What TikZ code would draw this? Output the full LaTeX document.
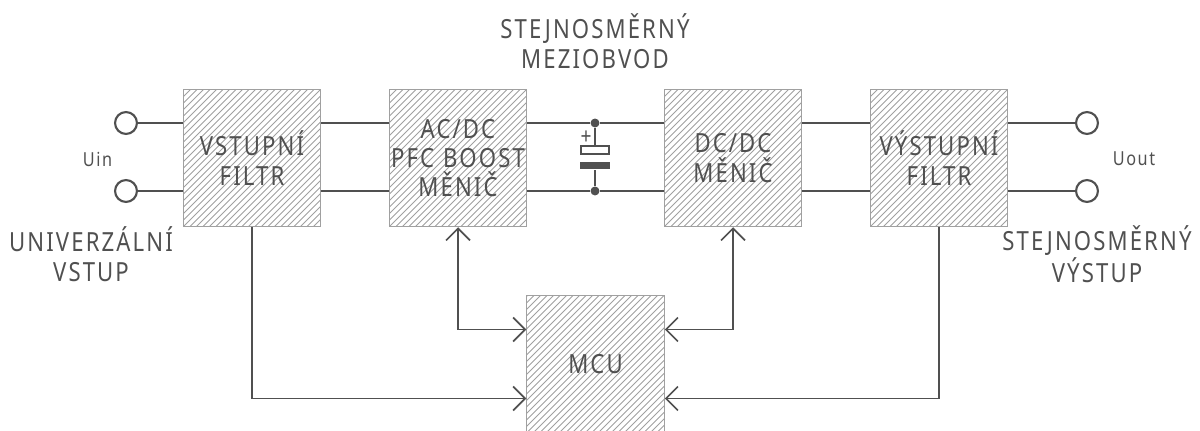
\documentclass[tikz,border=0pt]{standalone}
\usepackage{fontspec}
\setmainfont[LetterSpace=8,FakeStretch=0.84]{Noto Sans}
\usetikzlibrary{arrows.meta,calc}
\definecolor{ink}{HTML}{505050}
\definecolor{hatch}{HTML}{A0A0A0}
\tikzset{
  x=0.02cm,y=-0.02cm,
  wire/.style={draw=ink,line width=0.95pt},
  tipped/.style={wire,-{Straight Barb[length=12*0.5669pt,width=24*0.5669pt,line width=0.95pt]}},
  both/.style={wire,{Straight Barb[length=12*0.5669pt,width=24*0.5669pt,line width=0.95pt]}-{Straight Barb[length=12*0.5669pt,width=24*0.5669pt,line width=0.95pt]}},
  hatchbox/.style={draw=hatch,line width=0.6pt,minimum width=138*0.5669pt,minimum height=138*0.5669pt,text width=138*0.5669pt,inner sep=0pt,
    align=center,font=\fontsize{15pt}{16.7pt}\selectfont,text=ink,
    path picture={
      \foreach \k in {-143,-136.5,...,143}{
        \draw[hatch,line width=0.45pt] ($(path picture bounding box.center)+(\k-80,80)$) -- ($(path picture bounding box.center)+(\k+80,-80)$);
      }
    }},
  term/.style={circle,draw=ink,line width=1.2pt,fill=white,minimum size=22*0.5669pt,inner sep=0pt},
  dot/.style={circle,fill=ink,minimum size=9*0.5669pt,inner sep=0pt},
  lab/.style={text=ink,align=center,font=\fontsize{15pt}{17pt}\selectfont},
  small/.style={text=ink,font=\fontsize{11pt}{13pt}\selectfont},
  plusmark/.style={text=ink,font=\fontsize{13pt}{13pt}\selectfont},
}
\begin{document}
\begin{tikzpicture}
\useasboundingbox (0,0) rectangle (1200,431);
\clip (0,0) rectangle (1200,431);
\node[hatchbox] (vf) at (252,158) {VSTUPNÍ\\FILTR};
\node[hatchbox] (ac) at (458,158) {AC/DC\\PFC BOOST\\MĚNIČ};
\node[hatchbox] (dc) at (733,158) {DC/DC\\MĚNIČ};
\node[hatchbox] (vy) at (939,158) {VÝSTUPNÍ\\FILTR};
\node[hatchbox] (mcu) at (595.5,364) {MCU};
\node[term] (t1) at (126,123) {};
\node[term] (t2) at (126,191) {};
\node[term] (t3) at (1087,123) {};
\node[term] (t4) at (1087,191) {};
\node[dot] (d1) at (595,123) {};
\node[dot] (d2) at (595,191) {};
\node[draw=ink,line width=1.2pt,fill=white,minimum width=28*0.5669pt,minimum height=8*0.5669pt,inner sep=0pt] (cp) at (595,150) {};
\node[fill=ink,minimum width=31*0.5669pt,minimum height=8*0.5669pt,inner sep=0pt] (cn) at (595,165.5) {};
\node[plusmark,inner sep=0pt] (plus) at (586,138) {+};
\node[small] (uin) at (97.5,159) {Uin};
\node[small] (uout) at (1134,159) {Uout};
\node[lab] (l1) at (91,254) {UNIVERZÁLNÍ\\VSTUP};
\node[lab] (l2) at (595,41) {STEJNOSMĚRNÝ\\MEZIOBVOD};
\node[lab] (l3) at (1097,254) {STEJNOSMĚRNÝ\\VÝSTUP};
\path[wire] (t1) -- (t1-|vf.west);
\path[wire] (t2) -- (t2-|vf.west);
\path[wire] (t3) -- (t3-|vy.east);
\path[wire] (t4) -- (t4-|vy.east);
\path[wire] (t1-|vf.east) -- (t1-|ac.west);
\path[wire] (t2-|vf.east) -- (t2-|ac.west);
\path[wire] (t1-|ac.east) -- (d1) -- (t1-|dc.west);
\path[wire] (t2-|ac.east) -- (d2) -- (t2-|dc.west);
\path[wire] (t1-|dc.east) -- (t1-|vy.west);
\path[wire] (t2-|dc.east) -- (t2-|vy.west);
\path[wire] (d1) -- (cp);
\path[wire] (d2) -- (cn);
\coordinate (m1) at ($(mcu.west)+(0,-34.5)$);
\coordinate (m2) at ($(mcu.west)+(0,34.5)$);
\coordinate (m3) at ($(mcu.east)+(0,-34.5)$);
\coordinate (m4) at ($(mcu.east)+(0,34.5)$);
\path[both] (ac.south) |- (m1);
\path[both] (dc.south) |- (m3);
\path[tipped] (vf.south) |- (m2);
\path[tipped] (vy.south) |- (m4);
\end{tikzpicture}
\end{document}
